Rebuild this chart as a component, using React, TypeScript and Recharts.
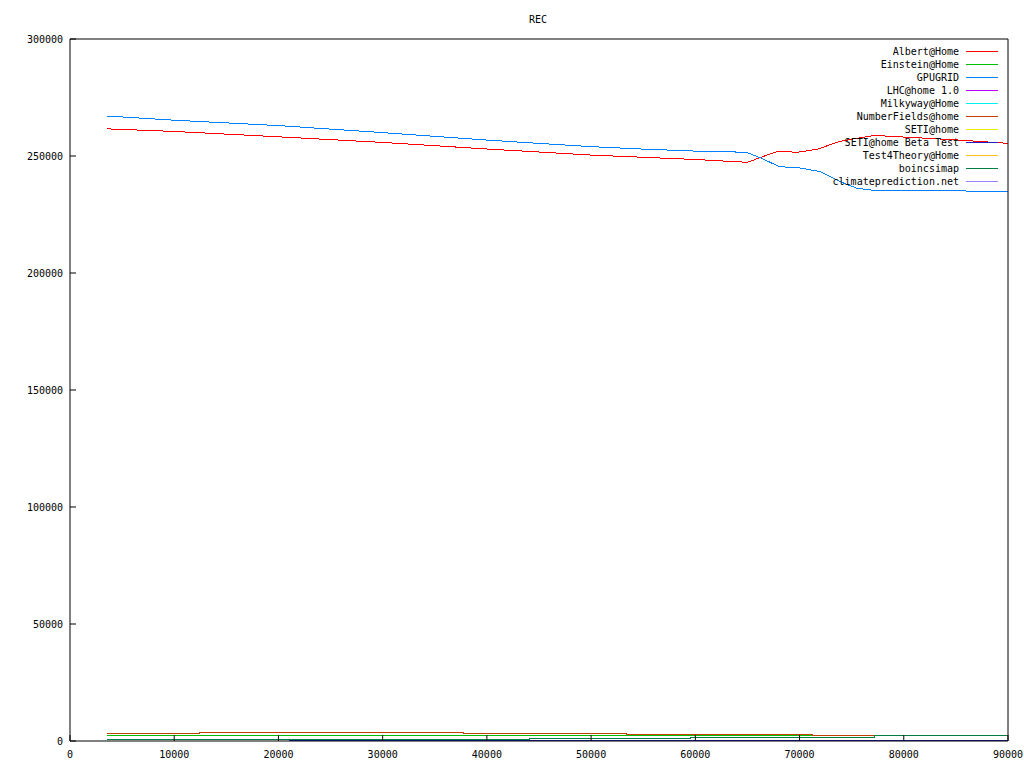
import React from "react";
import { Line, LineChart, XAxis, YAxis } from "recharts";

// time axis (seconds) and REC values
const albertTime = [3550, 10000, 20000, 30000, 40000, 50000, 60000, 65000, 66200, 67900, 69800, 71700, 73900, 77200, 80000, 85000, 90000];
const albertRec = [261600, 260500, 258200, 255800, 253000, 250400, 248500, 247300, 249300, 252000, 251600, 252900, 256300, 258800, 258100, 256900, 255400];

const gpugridTime = [3550, 10000, 20000, 30000, 40000, 50000, 54700, 60000, 64900, 66200, 68100, 69900, 72000, 73900, 75500, 77400, 80000, 85000, 90000];
const gpugridRec = [267100, 265300, 263000, 260000, 256800, 254000, 253000, 252100, 251600, 249300, 245400, 245000, 243300, 239000, 236200, 235200, 235400, 235100, 234800];

const einsteinTime = [3550, 90000];
const einsteinRec = [2440, 2440];

const numberFieldsTime = [3550, 12400, 37800, 53400, 71200, 90000];
const numberFieldsRec = [3300, 3700, 3300, 2850, 2450, 2450];

const setiBetaTime = [21000, 90000];
const setiBetaRec = [280, 280];

const boincsimapTime = [3550, 44100, 59500, 77200, 90000];
const boincsimapRec = [730, 1150, 1580, 2140, 2140];

const xTicks = [0, 10000, 20000, 30000, 40000, 50000, 60000, 70000, 80000, 90000];
const yTicks = [0, 50000, 100000, 150000, 200000, 250000, 300000];

const legendNames = [
  "Albert@Home",
  "Einstein@Home",
  "GPUGRID",
  "LHC@home 1.0",
  "Milkyway@Home",
  "NumberFields@home",
  "SETI@home",
  "SETI@home Beta Test",
  "Test4Theory@Home",
  "boincsimap",
  "climateprediction.net",
];
const legendColors = [
  "#ff0000",
  "#00c000",
  "#0080ff",
  "#c000ff",
  "#00eeee",
  "#c04000",
  "#eeee00",
  "#2020c0",
  "#ffc020",
  "#008040",
  "#a080ff",
];

const toRows = (t: number[], v: number[]) => t.map((x, i) => ({ x, y: v[i] }));

const series = [
  { name: "Albert@Home", rows: toRows(albertTime, albertRec), color: "#ff0000", type: "linear" },
  { name: "Einstein@Home", rows: toRows(einsteinTime, einsteinRec), color: "#00c000", type: "stepAfter" },
  { name: "GPUGRID", rows: toRows(gpugridTime, gpugridRec), color: "#0080ff", type: "linear" },
  { name: "NumberFields@home", rows: toRows(numberFieldsTime, numberFieldsRec), color: "#c04000", type: "stepAfter" },
  { name: "SETI@home Beta Test", rows: toRows(setiBetaTime, setiBetaRec), color: "#2020c0", type: "stepAfter" },
  { name: "boincsimap", rows: toRows(boincsimapTime, boincsimapRec), color: "#008040", type: "stepAfter" },
];

const font = { fontFamily: "'DejaVu Sans Mono', monospace", fontSize: 10, fill: "#000" };

export default function App() {
  return (
    <div style={{ position: "absolute", left: 0, top: 0, width: 1024, height: 768, background: "#fff" }}>
      <LineChart width={1024} height={768} margin={{ top: 38, right: 15, bottom: 0, left: 0 }}>
        <XAxis
          dataKey="x"
          type="number"
          domain={[0, 90000]}
          ticks={xTicks}
          interval={0}
          height={27}
          tickSize={-6}
          tickMargin={16}
          stroke="#000"
          tick={font}
        />
        <XAxis
          xAxisId="top"
          orientation="top"
          dataKey="x"
          type="number"
          domain={[0, 90000]}
          ticks={xTicks}
          interval={0}
          height={1}
          tickSize={-6}
          tickFormatter={() => ""}
          stroke="#000"
        />
        <YAxis
          type="number"
          domain={[0, 300000]}
          ticks={yTicks}
          interval={0}
          width={70}
          tickSize={-6}
          tickMargin={13}
          stroke="#000"
          tick={font}
        />
        <YAxis
          yAxisId="right"
          orientation="right"
          type="number"
          domain={[0, 300000]}
          ticks={yTicks}
          interval={0}
          width={1}
          tickSize={-6}
          tickFormatter={() => ""}
          stroke="#000"
        />
        {series.map((s) => (
          <Line
            key={s.name}
            data={s.rows}
            dataKey="y"
            name={s.name}
            type={s.type as any}
            stroke={s.color}
            strokeWidth={1}
            dot={false}
            shapeRendering="crispEdges"
            isAnimationActive={false}
          />
        ))}
      </LineChart>

      <svg width={1024} height={768} style={{ position: "absolute", left: 0, top: 0, pointerEvents: "none" }}>
        <text x={538} y={19} textAnchor="middle" dominantBaseline="central" {...font}>
          REC
        </text>
        {legendNames.map((name, i) => (
          <g key={name}>
            <text x={959} y={51 + i * 13} textAnchor="end" dominantBaseline="central" {...font}>
              {name}
            </text>
            <line
              x1={966}
              x2={998}
              y1={51.5 + i * 13}
              y2={51.5 + i * 13}
              stroke={legendColors[i]}
              strokeWidth={1}
              shapeRendering="crispEdges"
            />
          </g>
        ))}
      </svg>
    </div>
  );
}
